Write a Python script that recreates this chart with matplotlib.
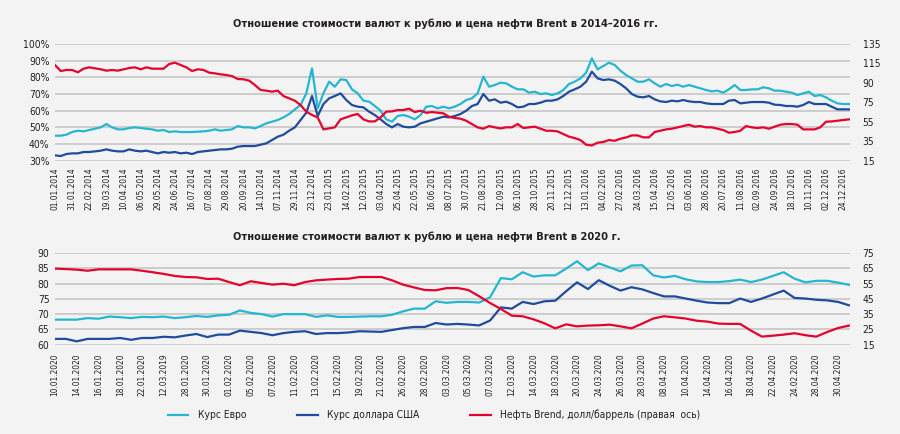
import os
import matplotlib
matplotlib.use('Agg')
import matplotlib.pyplot as plt
from matplotlib import font_manager
from matplotlib.font_manager import FontProperties

# ---------------- data: 2014-2016 ----------------
top_labels = ["01.01.2014", "31.01.2014", "22.02.2014", "19.03.2014", "10.04.2014", "06.05.2014",
              "29.05.2014", "24.06.2014", "16.07.2014", "07.08.2014", "29.08.2014", "20.09.2014",
              "14.10.2014", "07.11.2014", "29.11.2014", "23.12.2014", "23.01.2015", "14.02.2015",
              "12.03.2015", "03.04.2015", "25.04.2015", "22.05.2015", "16.06.2015", "08.07.2015",
              "30.07.2015", "21.08.2015", "12.09.2015", "06.10.2015", "28.10.2015", "20.11.2015",
              "12.12.2015", "13.01.2016", "04.02.2016", "27.02.2016", "24.03.2016", "15.04.2016",
              "12.05.2016", "03.06.2016", "28.06.2016", "20.07.2016", "11.08.2016", "02.09.2016",
              "24.09.2016", "18.10.2016", "10.11.2016", "02.12.2016", "24.12.2016"]

top_eur = [45.0, 45.0, 45.6, 47.2, 48.0, 47.6, 48.4, 49.2, 50.0, 52.0, 50.0, 48.8, 48.8, 49.6, 50.0,
           49.6, 49.2, 48.8, 48.0, 48.4, 47.2, 47.6, 47.2, 47.2, 47.2, 47.4, 47.6, 48.0, 48.8, 48.0,
           48.4, 48.8, 50.8, 50.0, 50.0, 49.4, 50.8, 52.4, 53.4, 54.4, 56.0, 58.0, 60.8, 63.4, 70.4,
           85.4, 61.4, 70.4, 77.4, 74.4, 78.8, 78.4, 72.8, 70.4, 66.0, 65.4, 62.8, 60.0, 54.8, 53.4,
           56.8, 57.4, 56.4, 54.8, 57.4, 62.4, 62.8, 61.4, 62.4, 61.4, 62.4, 64.0, 66.4, 67.4, 70.4,
           80.4, 74.4, 75.4, 76.8, 76.4, 74.4, 72.8, 72.8, 70.8, 71.4, 70.0, 70.4, 69.4, 70.4, 72.4,
           76.0, 77.4, 79.4, 82.8, 91.4, 84.8, 86.8, 88.8, 87.4, 84.0, 81.4, 79.4, 77.4, 77.4, 78.8,
           76.4, 74.4, 76.0, 74.8, 75.6, 74.4, 75.4, 74.4, 73.4, 72.4, 71.6, 72.0, 70.8, 72.8, 75.4,
           72.4, 72.4, 72.8, 72.8, 74.0, 73.4, 72.0, 72.0, 71.4, 70.8, 69.4, 70.4, 71.4, 68.8, 69.4,
           68.0, 66.0, 64.4, 64.0, 64.0]

top_usd = [33.2, 32.8, 34.0, 34.4, 34.4, 35.2, 35.2, 35.6, 36.0, 36.8, 36.0, 35.6, 35.6, 36.8, 36.0,
           35.6, 36.0, 35.2, 34.4, 35.2, 34.8, 35.2, 34.4, 34.8, 34.0, 35.2, 35.6, 36.0, 36.4, 36.8,
           36.8, 37.2, 38.4, 38.8, 38.8, 38.8, 39.6, 40.4, 42.4, 44.4, 45.6, 48.0, 50.0, 54.4, 58.8,
           68.8, 56.8, 64.0, 67.4, 68.8, 70.4, 66.4, 63.4, 62.4, 62.0, 59.4, 57.4, 54.8, 52.0, 50.0,
           52.0, 50.4, 50.0, 50.4, 52.4, 53.4, 54.4, 55.4, 56.4, 56.0, 56.8, 58.0, 60.0, 62.8, 64.0,
           70.0, 66.0, 66.8, 64.8, 65.4, 64.0, 62.0, 62.4, 64.0, 64.0, 64.8, 66.0, 66.0, 66.8, 68.8,
           71.4, 72.8, 74.4, 77.4, 83.4, 79.4, 78.4, 78.8, 78.0, 76.0, 73.4, 70.0, 68.4, 68.0, 68.8,
           66.8, 65.6, 65.2, 66.0, 65.6, 66.4, 65.6, 65.2, 65.2, 64.4, 64.0, 64.0, 64.0, 66.0, 66.4,
           64.4, 64.8, 65.2, 65.2, 65.2, 64.8, 63.6, 63.4, 62.8, 62.8, 62.4, 63.4, 65.2, 64.0, 64.0,
           64.0, 62.4, 60.8, 60.8, 60.8]

top_brent = [113.4, 107.2, 108.3, 108.3, 105.9, 109.6, 111.0, 110.0, 109.0, 107.6, 108.3, 107.6, 109.0,
             110.3, 111.0, 109.0, 111.0, 109.6, 109.6, 109.6, 114.4, 115.8, 113.4, 111.0, 107.2, 109.0,
             108.3, 105.5, 104.8, 103.8, 103.1, 102.0, 99.0, 98.7, 97.3, 92.8, 87.7, 87.0, 86.0, 87.0,
             81.5, 79.1, 76.7, 72.2, 65.4, 62.0, 59.5, 47.2, 48.2, 49.3, 57.5, 59.5, 61.6, 63.0, 57.5,
             55.4, 55.4, 59.5, 65.4, 65.7, 67.1, 67.1, 68.5, 65.0, 66.4, 64.3, 65.0, 64.3, 63.7, 60.2,
             58.9, 58.2, 56.1, 52.7, 49.3, 47.9, 50.6, 49.3, 48.2, 49.3, 49.3, 52.7, 48.6, 49.3, 50.0,
             47.9, 45.8, 45.8, 45.1, 42.4, 39.7, 38.3, 36.2, 31.4, 30.7, 33.5, 34.2, 36.2, 35.5, 37.6,
             38.9, 41.0, 41.0, 39.0, 39.0, 44.5, 45.8, 47.2, 47.9, 49.3, 50.6, 52.0, 50.0, 50.6, 49.3,
             49.3, 47.9, 46.5, 43.8, 44.5, 45.8, 50.6, 49.3, 48.6, 49.3, 47.9, 50.0, 52.0, 52.7, 52.7,
             52.0, 47.2, 47.2, 47.2, 49.3, 55.1, 55.4, 56.1, 56.8, 57.5]

# ---------------- data: 2020 ----------------
bot_labels = ["10.01.2020", "14.01.2020", "16.01.2020", "18.01.2020", "22.01.2020", "12.03.2019",
              "28.01.2020", "30.01.2020", "01.02.2020", "05.02.2020", "07.02.2020", "11.02.2020",
              "13.02.2020", "15.02.2020", "19.02.2020", "21.02.2020", "26.02.2020", "28.02.2020",
              "03.03.2020", "05.03.2020", "07.03.2020", "12.03.2020", "14.03.2020", "18.03.2020",
              "20.03.2020", "24.03.2020", "26.03.2020", "28.03.2020", "08.04.2020", "10.04.2020",
              "14.04.2020", "16.04.2020", "18.04.2020", "22.04.2020", "24.02.2020", "28.04.2020",
              "30.04.2020"]

bot_eur = [68.2, 68.2, 68.2, 68.7, 68.5, 69.2, 69.0, 68.7, 69.1, 69.0, 69.2, 68.7, 69.0, 69.4, 69.1,
           69.6, 69.8, 71.2, 70.4, 70.0, 69.2, 70.0, 70.0, 70.0, 69.1, 69.6, 69.1, 69.1, 69.2, 69.3,
           69.3, 69.8, 70.9, 71.8, 71.8, 74.2, 73.7, 74.0, 74.0, 73.8, 75.5, 81.8, 81.4, 83.7, 82.3,
           82.7, 82.7, 84.9, 87.3, 84.4, 86.6, 85.3, 84.0, 85.9, 86.0, 82.7, 82.0, 82.5, 81.4, 80.7,
           80.5, 80.5, 80.8, 81.3, 80.5, 81.3, 82.5, 83.7, 81.6, 80.4, 80.9, 80.9, 80.3, 79.6]

bot_usd = [61.9, 61.9, 61.1, 61.9, 61.9, 61.9, 62.2, 61.6, 62.2, 62.2, 62.6, 62.4, 63.0, 63.5, 62.5,
           63.3, 63.3, 64.6, 64.2, 63.8, 63.1, 63.8, 64.2, 64.4, 63.5, 63.8, 63.8, 64.0, 64.4, 64.3,
           64.2, 64.8, 65.4, 65.8, 65.8, 67.1, 66.6, 66.8, 66.6, 66.3, 67.9, 72.2, 71.8, 74.0, 73.3,
           74.2, 74.4, 77.5, 80.4, 78.2, 81.1, 79.3, 77.7, 78.8, 78.1, 76.9, 75.8, 75.8, 75.1, 74.4,
           73.8, 73.6, 73.6, 75.1, 74.0, 75.1, 76.4, 77.7, 75.3, 75.1, 74.7, 74.5, 74.0, 72.9]

bot_brent = [64.8, 64.5, 64.1, 63.4, 64.3, 64.3, 64.3, 64.3, 63.4, 62.4, 61.3, 60.0, 59.3, 59.1, 58.0,
             58.2, 56.0, 53.9, 56.5, 55.4, 54.3, 54.9, 53.9, 56.0, 57.1, 57.6, 58.0, 58.2, 59.3, 59.3,
             59.3, 57.1, 54.3, 52.5, 50.8, 50.6, 52.0, 52.1, 50.8, 46.7, 42.3, 38.4, 34.0, 33.6, 31.6,
             29.0, 25.7, 28.3, 27.0, 27.5, 27.7, 28.1, 27.0, 25.7, 28.8, 32.1, 33.6, 32.9, 32.1, 30.7,
             30.1, 28.8, 28.6, 28.6, 24.2, 20.3, 20.9, 21.6, 22.5, 21.2, 20.3, 23.3, 25.9, 27.5]

legend_labels = ["Курс Евро", "Курс доллара США", "Нефть Brend, долл/баррель (правая  ось)"]
top_title = "Отношение стоимости валют к рублю и цена нефти Brent в 2014–2016 гг."
bot_title = "Отношение стоимости валют к рублю и цена нефти Brent в 2020 г."

top_left_ticks = [30, 40, 50, 60, 70, 80, 90, 100]
top_left_labels = ["30%", "40%", "50%", "60%", "70%", "80%", "90%", "100%"]
top_right_ticks = [15, 35, 55, 75, 95, 115, 135]
top_right_labels = ["15", "35", "55", "75", "90", "115", "135"]
bot_left_ticks = [60, 65, 70, 75, 80, 85, 90]
bot_right_ticks = [15, 25, 35, 45, 55, 65, 75]

# ---------------- fonts (prefer a condensed face) ----------------
files = {os.path.basename(f.fname): f.fname for f in font_manager.fontManager.ttflist}
options = [
    ("NotoSans-Condensed.ttf", "NotoSans-CondensedBold.ttf", 1.28),
    ("LiberationSansNarrow-Regular.ttf", "LiberationSansNarrow-Bold.ttf", 1.3),
    ("DejaVuSansCondensed.ttf", "DejaVuSansCondensed-Bold.ttf", 1.1),
]
REG = BOLD = None
SCALE = 1.0
for r, b, s in options:
    if r in files and b in files:
        REG, BOLD, SCALE = files[r], files[b], s
        break


def fp(size, bold=False):
    if REG is None:
        return FontProperties(family='DejaVu Sans', weight='bold' if bold else 'normal',
                              size=size * SCALE)
    return FontProperties(fname=BOLD if bold else REG, size=size * SCALE)


# ---------------- styling ----------------
BG = '#f3f3f3'
GRID = '#c9c9c9'
C_EUR = '#25b6d2'
C_USD = '#1f4c9c'
C_OIL = '#e4032e'
TXT = '#231f20'
LW = 1.6
fs_tick, fs_xtick, fs_title, fs_leg = 6.7, 5.5, 7.22, 6.7

W, H = 900, 434
fig = plt.figure(figsize=(9, 4.34), dpi=100, facecolor=BG)


def make_axes(top_px, bot_px):
    ax = fig.add_axes([55 / W, 1 - bot_px / H, 795 / W, (bot_px - top_px) / H])
    ax.set_facecolor(BG)
    for s in ax.spines.values():
        s.set_visible(False)
    ax.tick_params(length=0, colors=TXT)
    ax.yaxis.grid(True, color=GRID, lw=1.3)
    ax.set_axisbelow(True)
    axr = ax.twinx()
    for s in axr.spines.values():
        s.set_visible(False)
    axr.tick_params(length=0, colors=TXT)
    return ax, axr


# ---- top chart ----
ax1, ax1r = make_axes(44, 160.7)
x1 = list(range(len(top_eur)))
ax1.plot(x1, top_eur, color=C_EUR, lw=LW)
ax1.plot(x1, top_usd, color=C_USD, lw=LW)
ax1r.plot(x1, top_brent, color=C_OIL, lw=LW)
ax1.set_xlim(0, len(x1) - 0.8)
ax1.set_ylim(30, 100)
ax1r.set_ylim(15, 135)
ax1.set_yticks(top_left_ticks)
ax1.set_yticklabels(top_left_labels, fontproperties=fp(fs_tick))
ax1r.set_yticks(top_right_ticks)
ax1r.set_yticklabels(top_right_labels, fontproperties=fp(fs_tick))
step1 = 3
ax1.set_xticks([i * step1 for i in range(len(top_labels))])
ax1.set_xticklabels(top_labels, rotation=90, fontproperties=fp(fs_xtick))
ax1.tick_params(axis='x', pad=5)
ax1.tick_params(axis='y', pad=4)
ax1r.tick_params(axis='y', pad=9)

# ---- bottom chart ----
ax2, ax2r = make_axes(253, 344.7)
x2 = list(range(len(bot_eur)))
ax2.plot(x2, bot_eur, color=C_EUR, lw=LW, label=legend_labels[0])
ax2.plot(x2, bot_usd, color=C_USD, lw=LW, label=legend_labels[1])
ax2r.plot(x2, bot_brent, color=C_OIL, lw=LW, label=legend_labels[2])
ax2.set_xlim(0, len(x2) - 0.9)
ax2.set_ylim(60, 90)
ax2r.set_ylim(15, 75)
ax2.set_yticks(bot_left_ticks)
ax2.set_yticklabels([str(t) for t in bot_left_ticks], fontproperties=fp(fs_tick))
ax2r.set_yticks(bot_right_ticks)
ax2r.set_yticklabels([str(t) for t in bot_right_ticks], fontproperties=fp(fs_tick))
step2 = 2
ax2.set_xticks([i * step2 for i in range(len(bot_labels))])
ax2.set_xticklabels(bot_labels, rotation=90, fontproperties=fp(fs_xtick))
ax2.tick_params(axis='x', pad=6)
ax2.tick_params(axis='y', pad=4)
ax2r.tick_params(axis='y', pad=9)

# ---- titles ----
fig.text(233 / W, 1 - 24 / H, top_title, ha='left', va='center',
         fontproperties=fp(fs_title, bold=True), color=TXT)
fig.text(233 / W, 1 - 237 / H, bot_title, ha='left', va='center',
         fontproperties=fp(fs_title, bold=True), color=TXT)

# ---- legend ----
h1, l1 = ax2.get_legend_handles_labels()
h2, l2 = ax2r.get_legend_handles_labels()
fig.legend(h1 + h2, l1 + l2, loc='center', bbox_to_anchor=(434 / W, 1 - 415 / H), ncol=3,
           frameon=False, prop=fp(fs_leg), handlelength=2.0, handletextpad=0.9,
           columnspacing=5.0, labelcolor=TXT)

fig.savefig('out.png', dpi=100, facecolor=BG)
